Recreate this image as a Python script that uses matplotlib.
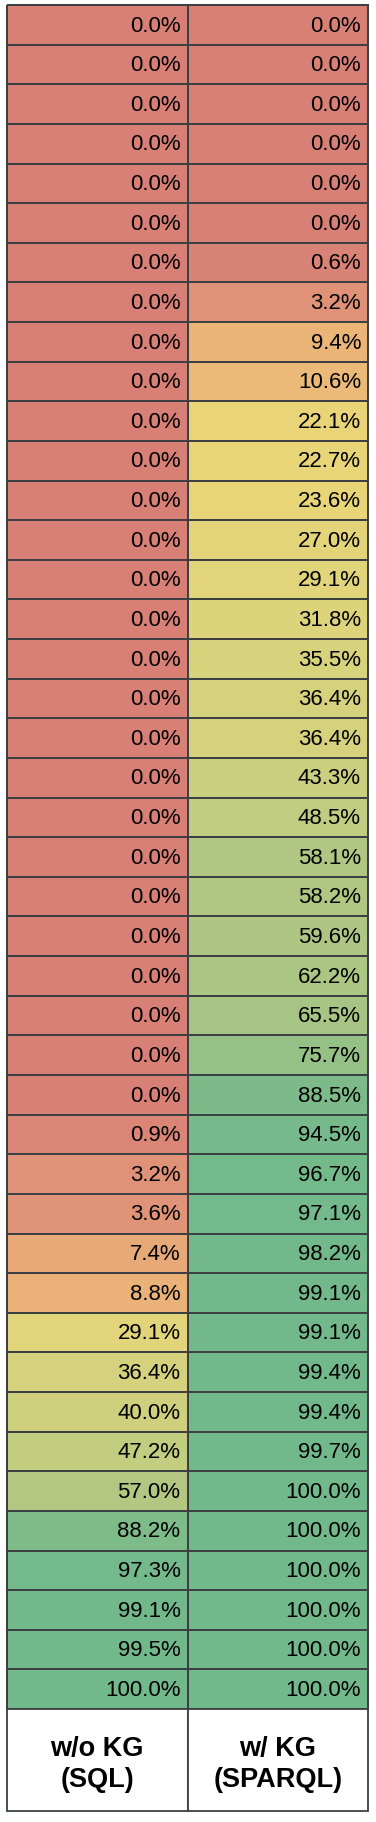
import numpy as np
import matplotlib
matplotlib.use("Agg")
from matplotlib import pyplot as plt
from matplotlib.colors import LinearSegmentedColormap
from matplotlib.patches import Rectangle

# column headers and accuracy values (%) per row
headers = ["w/o KG\n(SQL)", "w/ KG\n(SPARQL)"]
sql = [0.0, 0.0, 0.0, 0.0, 0.0, 0.0, 0.0, 0.0, 0.0, 0.0,
       0.0, 0.0, 0.0, 0.0, 0.0, 0.0, 0.0, 0.0, 0.0, 0.0,
       0.0, 0.0, 0.0, 0.0, 0.0, 0.0, 0.0, 0.0, 0.9, 3.2,
       3.6, 7.4, 8.8, 29.1, 36.4, 40.0, 47.2, 57.0, 88.2, 97.3,
       99.1, 99.5, 100.0]
sparql = [0.0, 0.0, 0.0, 0.0, 0.0, 0.0, 0.6, 3.2, 9.4, 10.6,
          22.1, 22.7, 23.6, 27.0, 29.1, 31.8, 35.5, 36.4, 36.4, 43.3,
          48.5, 58.1, 58.2, 59.6, 62.2, 65.5, 75.7, 88.5, 94.5, 96.7,
          97.1, 98.2, 99.1, 99.1, 99.4, 99.4, 99.7, 100.0, 100.0, 100.0,
          100.0, 100.0, 100.0]

W, H = 376, 1822
row_px = 39.63     # height of one value row in pixels
head_px = 102.4    # height of header row in pixels
line_c = "#3c4043"

# red -> yellow -> green scale like the spreadsheet conditional formatting
cmap = LinearSegmentedColormap.from_list("ryg", [
    (0.00, "#d88076"),
    (0.09, "#ebb478"),
    (0.20, "#ebd577"),
    (0.30, "#e0d47a"),
    (0.47, "#c2cd80"),
    (0.57, "#b3c682"),
    (0.76, "#95c187"),
    (0.88, "#7dbb89"),
    (1.00, "#71b88b"),
])

fig = plt.figure(figsize=(W / 100, H / 100), dpi=100)
n = len(sql)
table_h = n * row_px + head_px
ax = fig.add_axes([7 / W, 1 - (5 + table_h) / H, 361 / W, table_h / H])
head_h = head_px / row_px
ax.set_xlim(0, 2)
ax.set_ylim(n + head_h, 0)
ax.axis("off")

vals = np.array([sql, sparql]).T
mesh = ax.pcolormesh(np.arange(3), np.arange(n + 1), vals, cmap=cmap,
                     vmin=0, vmax=100, edgecolors=line_c, linewidth=1.3)
mesh.set_clip_on(False)

pad = 7.0 / 180.5
plt.rcParams["font.family"] = ["Liberation Sans", "DejaVu Sans"]
for j, col in enumerate([sql, sparql]):
    for i, v in enumerate(col):
        ax.text(j + 1 - pad, i + 0.53, f"{v:.1f}%", ha="right", va="center",
                fontsize=16, color="#000000")
    # header cell
    ax.add_patch(Rectangle((j, n), 1, head_h, facecolor="white",
                           edgecolor=line_c, linewidth=1.3, clip_on=False))
    ax.text(j + 0.5, n + head_h / 2 + 0.1, headers[j], ha="center", va="center",
            fontsize=19.5, fontweight="bold", linespacing=1.25)

fig.savefig("out.png", dpi=100, facecolor="white")
